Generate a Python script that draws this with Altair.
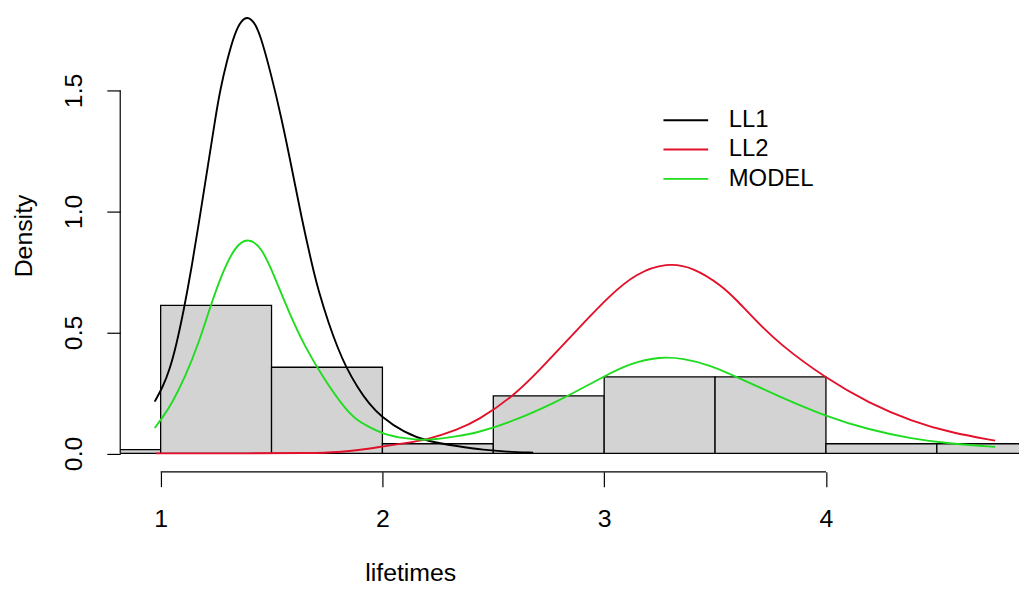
import altair as alt
import pandas as pd

FONT = "Liberation Sans"

# Histogram (density scale), bins of width 0.5
bin_start = [0.5, 1.0, 1.5, 2.0, 2.5, 3.0, 3.5, 4.0, 4.5]
bin_end = [1.0, 1.5, 2.0, 2.5, 3.0, 3.5, 4.0, 4.5, 5.0]
bin_density = [0.016, 0.612, 0.356, 0.040, 0.238, 0.316, 0.316, 0.040, 0.040]

# Density curves
ll1_x = [0.973, 1.010, 1.040, 1.070, 1.104, 1.140, 1.171, 1.216, 1.246, 1.268, 1.298,
         1.335, 1.365, 1.391, 1.420, 1.448, 1.500, 1.545, 1.590, 1.635, 1.680, 1.709,
         1.760, 1.799, 1.833, 1.889, 1.940, 1.990, 2.099, 2.203, 2.338, 2.458, 2.560,
         2.680]
ll1_y = [0.214, 0.275, 0.345, 0.445, 0.590, 0.770, 0.945, 1.205, 1.382, 1.500, 1.620,
         1.740, 1.790, 1.805, 1.785, 1.735, 1.560, 1.385, 1.185, 0.975, 0.790, 0.680,
         0.530, 0.435, 0.362, 0.270, 0.205, 0.155, 0.085, 0.050, 0.030, 0.014, 0.007,
         0.003]

ll2_x = [0.980, 1.300, 1.700, 1.800, 1.900, 2.009, 2.100, 2.203, 2.338, 2.428, 2.593,
         2.724, 2.785, 2.877, 3.027, 3.146, 3.281, 3.401, 3.535, 3.595, 3.685, 3.790,
         4.000, 4.194, 4.389, 4.568, 4.763]
ll2_y = [0.000, 0.000, 0.001, 0.005, 0.014, 0.030, 0.042, 0.057, 0.098, 0.135, 0.237,
         0.360, 0.420, 0.510, 0.655, 0.745, 0.788, 0.770, 0.690, 0.635, 0.548, 0.452,
         0.310, 0.208, 0.132, 0.085, 0.053]

model_x = [0.973, 1.010, 1.051, 1.111, 1.171, 1.223, 1.275, 1.335, 1.391, 1.455, 1.515,
           1.575, 1.650, 1.740, 1.829, 1.882, 1.934, 2.009, 2.099, 2.203, 2.338, 2.428,
           2.608, 2.787, 2.847, 2.997, 3.116, 3.251, 3.356, 3.476, 3.595, 3.790, 4.000,
           4.194, 4.389, 4.553, 4.763]
model_y = [0.105, 0.150, 0.207, 0.317, 0.454, 0.604, 0.740, 0.855, 0.892, 0.855, 0.727,
           0.590, 0.440, 0.303, 0.187, 0.139, 0.112, 0.078, 0.062, 0.052, 0.071, 0.085,
           0.139, 0.215, 0.243, 0.317, 0.372, 0.400, 0.393, 0.365, 0.317, 0.235, 0.153,
           0.098, 0.060, 0.041, 0.027]

series_names = ["LL1", "LL2", "MODEL"]
series_colors = ["#000000", "#E2102A", "#1FDC1F"]

x_ticks = [1, 2, 3, 4]
y_ticks = [0.0, 0.5, 1.0, 1.5]

X_DOMAIN = [0.8177, 4.8705]
Y_DOMAIN = [-0.0759, 1.8322]
W, H = 905, 465

bars_df = pd.DataFrame({"x0": bin_start, "x1": bin_end, "d": bin_density,
                        "base": [0.0] * len(bin_density)})
curves = pd.concat([
    pd.DataFrame({"x": ll1_x, "y": ll1_y, "series": series_names[0]}),
    pd.DataFrame({"x": ll2_x, "y": ll2_y, "series": series_names[1]}),
    pd.DataFrame({"x": model_x, "y": model_y, "series": series_names[2]}),
], ignore_index=True)
axis_df = pd.DataFrame({"ax0": [x_ticks[0]], "ax1": [x_ticks[-1]],
                        "ay0": [y_ticks[0]], "ay1": [y_ticks[-1]]})

xs = alt.Scale(domain=X_DOMAIN, nice=False, zero=False)
ys = alt.Scale(domain=Y_DOMAIN, nice=False, zero=False)

x_axis = alt.Axis(values=x_ticks, format="d", domain=False, grid=False,
                  tickSize=15, tickColor="black", tickWidth=1.2,
                  labelFont=FONT, labelFontSize=25, labelColor="black",
                  labelPadding=20, labelFlush=False, labelOverlap=False,
                  title="lifetimes", titleFont=FONT, titleFontSize=25,
                  titleFontWeight="normal", titleColor="black",
                  titleX=292, titleY=109, titleAlign="center",
                  titleBaseline="alphabetic")
y_axis = alt.Axis(values=y_ticks, format=".1f", domain=False, grid=False,
                  tickSize=13.5, tickColor="black", tickWidth=1.2,
                  labelFont=FONT, labelFontSize=25, labelColor="black",
                  labelAngle=270, labelAlign="center", labelBaseline="bottom",
                  labelPadding=20, labelFlush=False, labelOverlap=False,
                  title="Density", titleFont=FONT, titleFontSize=25,
                  titleFontWeight="normal", titleColor="black",
                  titleAngle=270, titleX=-89, titleY=227, titleAlign="center",
                  titleBaseline="alphabetic")

bars = alt.Chart(bars_df).mark_rect(
    fill="#D3D3D3", stroke="black", strokeWidth=1.3, clip=True
).encode(
    x=alt.X("x0:Q", scale=xs, axis=x_axis),
    x2="x1",
    y=alt.Y("d:Q", scale=ys, axis=y_axis),
    y2="base",
)

lines = alt.Chart(curves).mark_line(
    strokeWidth=1.9, interpolate="basis", clip=True
).encode(
    x=alt.X("x:Q", scale=xs, axis=x_axis),
    y=alt.Y("y:Q", scale=ys, axis=y_axis),
    color=alt.Color(
        "series:N",
        scale=alt.Scale(domain=series_names, range=series_colors),
        legend=alt.Legend(
            title=None, orient="none", legendX=545.75, legendY=98.5,
            symbolType="M-1,0H3", symbolSize=506.25, symbolStrokeWidth=1.9,
            symbolOffset=0, labelFont=FONT, labelFontSize=24,
            labelColor="black", labelOffset=42, rowPadding=4.5, padding=0,
        ),
    ),
)

x_line = alt.Chart(axis_df).mark_rule(color="black", strokeWidth=1.2).encode(
    x=alt.X("ax0:Q", scale=xs, axis=x_axis),
    x2="ax1",
    y=alt.value(H),
)
y_line = alt.Chart(axis_df).mark_rule(color="black", strokeWidth=1.2).encode(
    x=alt.value(0),
    y=alt.Y("ay0:Q", scale=ys, axis=y_axis),
    y2="ay1",
)

chart = alt.layer(bars, lines, x_line, y_line).properties(
    width=W, height=H,
    autosize=alt.AutoSizeParams(type="none"),
    padding={"left": 113, "top": 0, "right": 0, "bottom": 114},
    background="white",
).configure_view(stroke=None)

chart.save("out.html", embed_options={"renderer": "svg", "actions": False})
